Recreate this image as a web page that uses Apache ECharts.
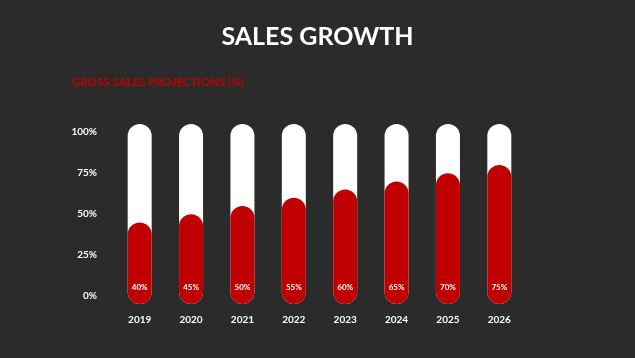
<!DOCTYPE html>
<html><head><meta charset="utf-8">
<script src="https://cdn.jsdelivr.net/npm/echarts@6/dist/echarts.min.js"></script>
<style>html,body{margin:0;padding:0;background:#2b2b2b}#c{width:635px;height:358px}</style>
</head><body><div id="c"></div>
<script>
const categories = ['2019','2020','2021','2022','2023','2024','2025','2026'];
const values = [40,45,50,55,60,65,70,75];
const fullValues = [100,100,100,100,100,100,100,100];
const yTicks = [0,25,50,75,100];

const FONT = 'Lato';
const BAR_W = 24, EXT = 8;

function pill(color, withLabel) {
  return function(params, api) {
    const i = api.value(0), v = api.value(1);
    const top = api.coord([i, v]);
    const bot = api.coord([i, 0]);
    const x = top[0] - BAR_W/2;
    const y = top[1] - EXT;
    const h = bot[1] - top[1] + 2*EXT;
    const children = [{
      type: 'rect',
      shape: {x: x, y: y, width: BAR_W, height: h, r: BAR_W/2},
      style: {fill: color}
    }];
    if (withLabel) {
      children.push({
        type: 'text',
        style: {text: v + '%', x: bot[0], y: bot[1] - 9, align: 'center', verticalAlign: 'middle',
          fill: '#ffffff', font: 'bold 8px ' + FONT}
      });
    }
    return {type: 'group', children: children};
  };
}

const chart = echarts.init(document.getElementById('c'));
chart.setOption({
  backgroundColor: '#2b2b2b',
  animation: false,
  title: [
    {text: 'SALES GROWTH', left: 'center', top: 19,
      textStyle: {color: '#ffffff', fontFamily: FONT, fontWeight: 'bold', fontSize: 25}},
    {text: 'GROSS SALES PROJECTIONS (%)', left: 67, top: 71,
      textStyle: {color: '#c00000', fontFamily: FONT, fontWeight: 'bold', fontSize: 11.5}}
  ],
  grid: {left: 114, right: 110, top: 132, bottom: 62},
  xAxis: {
    type: 'category', data: categories,
    axisLine: {show: false}, axisTick: {show: false},
    axisLabel: {color: '#ffffff', fontFamily: FONT, fontWeight: 'bold', fontSize: 10, margin: 19}
  },
  yAxis: {
    type: 'value', min: 0, max: 100, interval: 25,
    splitLine: {show: false}, axisLine: {show: false}, axisTick: {show: false},
    axisLabel: {color: '#ffffff', fontFamily: FONT, fontWeight: 'bold', fontSize: 10, margin: 17,
      formatter: v => yTicks.includes(v) ? v + '%' : ''}
  },
  series: [
    {type: 'custom', renderItem: pill('#ffffff', false),
      data: fullValues.map((v, i) => [i, v]), encode: {x: 0, y: 1}, z: 1},
    {type: 'custom', renderItem: pill('#c00000', true),
      data: values.map((v, i) => [i, v]), encode: {x: 0, y: 1}, z: 2}
  ]
});
</script></body></html>
